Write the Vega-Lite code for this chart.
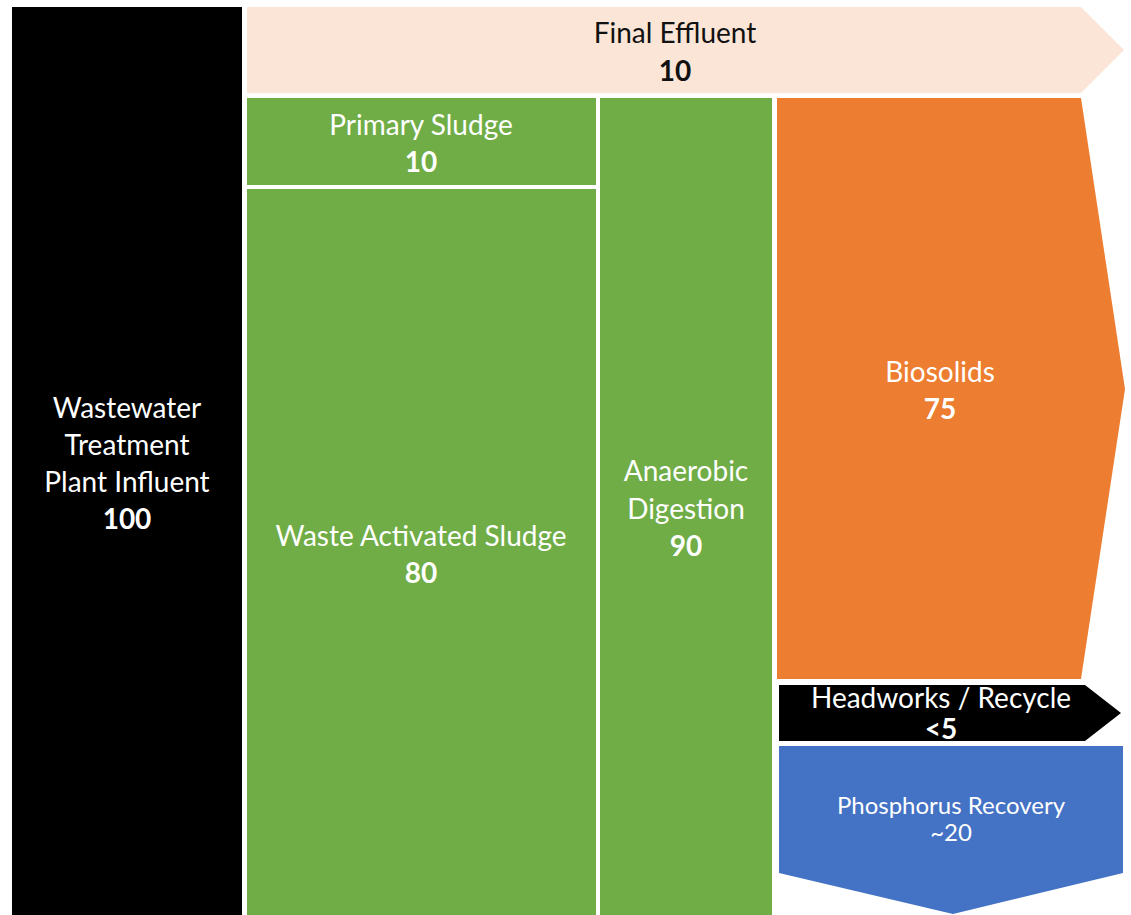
{
  "$schema": "https://vega.github.io/schema/vega-lite/v6.json",
  "autosize": {"type": "fit", "contains": "padding"},
  "width": 1131,
  "height": 915,
  "padding": 0,
  "background": "white",
  "config": {"view": {"stroke": null}},
  "datasets": {
    "shapes": [
      {"shape": "influent", "kind": "influent", "x": 12, "y": 7, "y2": 915},
      {"shape": "influent", "kind": "influent", "x": 242, "y": 7, "y2": 915},
      {"shape": "effluent", "kind": "effluent", "x": 247, "y": 7, "y2": 93},
      {"shape": "effluent", "kind": "effluent", "x": 1081, "y": 7, "y2": 93},
      {"shape": "effluent", "kind": "effluent", "x": 1124, "y": 50, "y2": 50},
      {"shape": "primary", "kind": "sludge", "x": 247, "y": 98, "y2": 185},
      {"shape": "primary", "kind": "sludge", "x": 596, "y": 98, "y2": 185},
      {"shape": "was", "kind": "sludge", "x": 247, "y": 189, "y2": 915},
      {"shape": "was", "kind": "sludge", "x": 596, "y": 189, "y2": 915},
      {"shape": "ad", "kind": "sludge", "x": 600, "y": 98, "y2": 915},
      {"shape": "ad", "kind": "sludge", "x": 772, "y": 98, "y2": 915},
      {"shape": "biosolids", "kind": "biosolids", "x": 777, "y": 98, "y2": 679},
      {"shape": "biosolids", "kind": "biosolids", "x": 1081, "y": 98, "y2": 679},
      {"shape": "biosolids", "kind": "biosolids", "x": 1125, "y": 389, "y2": 389},
      {"shape": "headworks", "kind": "recycle", "x": 779, "y": 685, "y2": 741},
      {"shape": "headworks", "kind": "recycle", "x": 1085, "y": 685, "y2": 741},
      {"shape": "headworks", "kind": "recycle", "x": 1121, "y": 713, "y2": 713},
      {"shape": "phos", "kind": "phosphorus", "x": 779, "y": 746, "y2": 873},
      {"shape": "phos", "kind": "phosphorus", "x": 953, "y": 746, "y2": 914},
      {"shape": "phos", "kind": "phosphorus", "x": 1123, "y": 746, "y2": 873}
    ],
    "labels": [
      {"label": "Final Effluent", "role": "name", "kind": "effluent", "x": 675, "y": 35},
      {"label": "10", "role": "value", "kind": "effluent", "x": 675, "y": 73},
      {"label": "Primary Sludge", "role": "name", "kind": "sludge", "x": 421, "y": 127},
      {"label": "10", "role": "value", "kind": "sludge", "x": 421, "y": 164},
      {"label": "Waste Activated Sludge", "role": "name", "kind": "sludge", "x": 421, "y": 538},
      {"label": "80", "role": "value", "kind": "sludge", "x": 421, "y": 575},
      {"label": "Anaerobic", "role": "name", "kind": "sludge", "x": 686, "y": 473},
      {"label": "Digestion", "role": "name", "kind": "sludge", "x": 686, "y": 511},
      {"label": "90", "role": "value", "kind": "sludge", "x": 686, "y": 548},
      {"label": "Biosolids", "role": "name", "kind": "biosolids", "x": 940, "y": 374},
      {"label": "75", "role": "value", "kind": "biosolids", "x": 940, "y": 411},
      {"label": "Wastewater", "role": "name", "kind": "influent", "x": 127, "y": 410},
      {"label": "Treatment", "role": "name", "kind": "influent", "x": 127, "y": 447},
      {"label": "Plant Influent", "role": "name", "kind": "influent", "x": 127, "y": 484},
      {"label": "100", "role": "value", "kind": "influent", "x": 127, "y": 521},
      {"label": "Headworks / Recycle", "role": "name", "kind": "recycle", "x": 941, "y": 700},
      {"label": "<5", "role": "value", "kind": "recycle", "x": 941, "y": 731},
      {"label": "Phosphorus Recovery", "role": "small", "kind": "phosphorus", "x": 951, "y": 807},
      {"label": "~20", "role": "small", "kind": "phosphorus", "x": 951, "y": 834}
    ]
  },
  "layer": [
    {
      "data": {"name": "shapes"},
      "mark": {"type": "area", "opacity": 1, "strokeWidth": 0},
      "encoding": {
        "x": {"field": "x", "type": "quantitative", "scale": {"domain": [0, 1131], "nice": false, "zero": false}, "axis": null},
        "y": {"field": "y", "type": "quantitative", "stack": null, "scale": {"domain": [0, 915], "nice": false, "zero": false, "reverse": true}, "axis": null},
        "y2": {"field": "y2"},
        "detail": {"field": "shape", "type": "nominal"},
        "color": {
          "field": "kind", "type": "nominal", "legend": null,
          "scale": {
            "domain": ["influent", "effluent", "sludge", "biosolids", "recycle", "phosphorus"],
            "range": ["#000000", "#FBE5D6", "#70AD47", "#ED7D31", "#000000", "#4472C4"]
          }
        }
      }
    },
    {
      "data": {"name": "labels"},
      "transform": [{"filter": "datum.role === 'name'"}],
      "mark": {"type": "text", "font": "Lato", "fontSize": 28, "baseline": "middle", "align": "center"},
      "encoding": {
        "x": {"field": "x", "type": "quantitative"},
        "y": {"field": "y", "type": "quantitative"},
        "text": {"field": "label"},
        "color": {"condition": {"test": "datum.kind === 'effluent'", "value": "#111111"}, "value": "#ffffff"}
      }
    },
    {
      "data": {"name": "labels"},
      "transform": [{"filter": "datum.role === 'value'"}],
      "mark": {"type": "text", "font": "Lato", "fontSize": 28, "fontWeight": "bold", "baseline": "middle", "align": "center"},
      "encoding": {
        "x": {"field": "x", "type": "quantitative"},
        "y": {"field": "y", "type": "quantitative"},
        "text": {"field": "label"},
        "color": {"condition": {"test": "datum.kind === 'effluent'", "value": "#111111"}, "value": "#ffffff"}
      }
    },
    {
      "data": {"name": "labels"},
      "transform": [{"filter": "datum.role === 'small'"}],
      "mark": {"type": "text", "font": "Lato", "fontSize": 24, "baseline": "middle", "align": "center", "color": "#ffffff"},
      "encoding": {
        "x": {"field": "x", "type": "quantitative"},
        "y": {"field": "y", "type": "quantitative"},
        "text": {"field": "label"}
      }
    }
  ]
}
